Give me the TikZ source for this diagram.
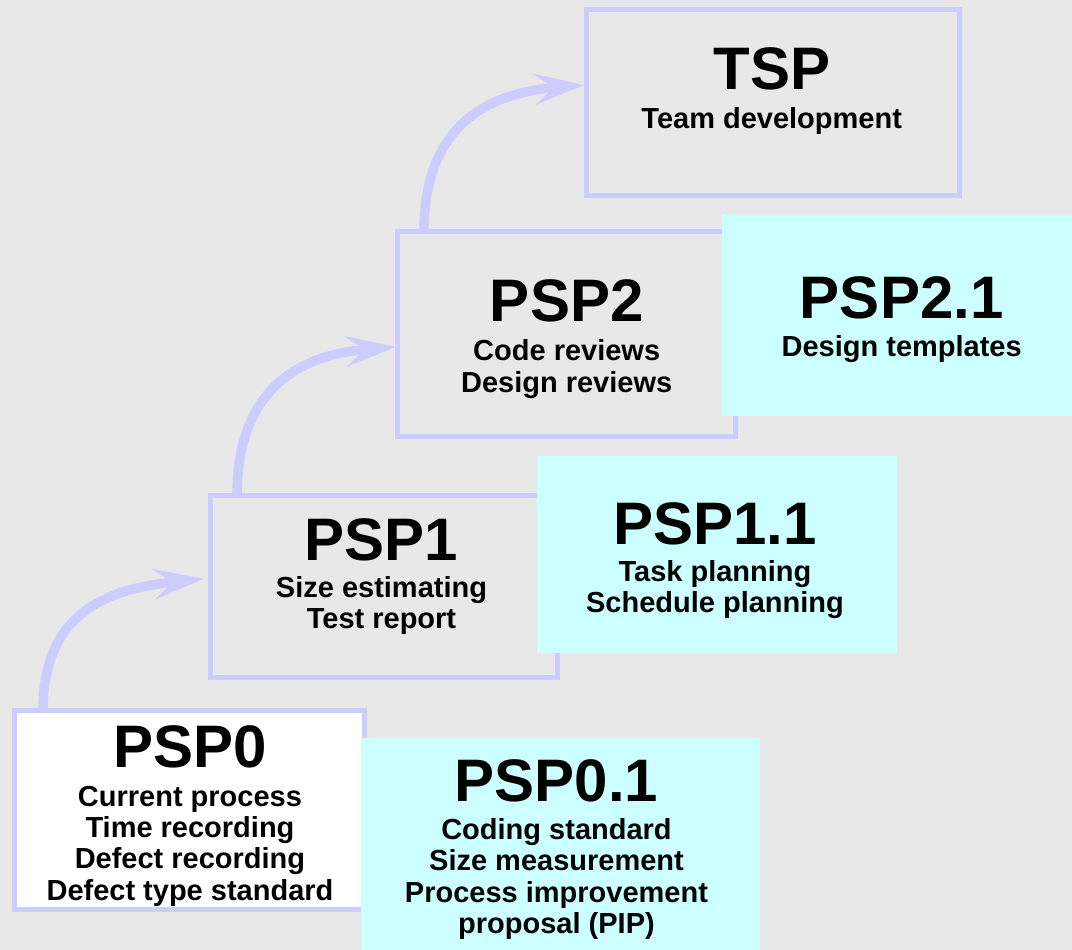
\documentclass[tikz,border=0pt]{standalone}
\usepackage{fontspec}
\setmainfont{Liberation Sans}
\usetikzlibrary{arrows.meta}
\definecolor{bgc}{HTML}{E8E8E8}
\definecolor{lav}{HTML}{CCCCFF}
\definecolor{aqua}{HTML}{CCFFFF}
\begin{document}
\begin{tikzpicture}[x=1pt,y=1pt,
  stage/.style={draw=lav, line width=5pt, fill=bgc, inner sep=0pt, outer sep=0pt},
  extra/.style={fill=aqua, inner sep=0pt, outer sep=0pt},
  head/.style={font=\fontsize{60}{70}\selectfont\bfseries, inner sep=0pt, anchor=base},
  % multi-line lists are placed by the baseline of their last line
  items/.style={font=\fontsize{29}{31.3}\selectfont\bfseries, align=center, inner sep=0pt, anchor=base},
  flow/.style={draw=lav, line width=9.5pt,
    -{Stealth[length=50pt,width=31pt,inset=20pt,line width=0.01pt]}}]

% page background
\fill[bgc] (0,0) rectangle (1072,-950);
\useasboundingbox (0,0) rectangle (1072,-950);

% main process levels
\node[stage, fill=white, minimum width=350pt, minimum height=199pt] (psp0) at (189.5,-810) {};
\node[stage, minimum width=347pt, minimum height=182pt] (psp1) at (384,-586.5) {};
\node[stage, minimum width=338pt, minimum height=205pt] (psp2) at (566.5,-334) {};
\node[stage, minimum width=373pt, minimum height=186pt] (tsp) at (773,-102.5) {};

% progression arrows
\draw[flow] ([xshift=28.5pt]psp0.north west) to[out=90,in=186,looseness=1.2] ([xshift=-7.5pt,yshift=7.5pt]psp1.west);
\draw[flow] ([xshift=26.5pt]psp1.north west) to[out=90,in=185,looseness=1.2] ([xshift=-2.5pt,yshift=-13pt]psp2.west);
\draw[flow] ([xshift=26.5pt]psp2.north west) to[out=90,in=185,looseness=1.2] ([xshift=-2.5pt,yshift=17.5pt]tsp.west);

% intermediate levels
\node[extra, minimum width=399pt, minimum height=214pt] (psp01) at (560.5,-845) {};
\node[extra, minimum width=360pt, minimum height=197pt] (psp11) at (717,-554.5) {};
\node[extra, minimum width=350pt, minimum height=202pt] (psp21) at (897,-315) {};

% labels
\node[head] (psp0-t) at (190,-767) {PSP0};
\node[items] (psp0-i) at (190,-900) {Current process\\Time recording\\Defect recording\\Defect type standard};

\node[head] (psp01-t) at (556.5,-801.7) {PSP0.1};
\node[items] (psp01-i) at (556.5,-933.3) {Coding standard\\Size measurement\\Process improvement\\proposal (PIP)};

\node[head] (psp1-t) at (381.5,-560) {PSP1};
\node[items] (psp1-i) at (381.5,-628.3) {Size estimating\\Test report};

\node[head] (psp11-t) at (715,-544) {PSP1.1};
\node[items] (psp11-i) at (715,-612.7) {Task planning\\Schedule planning};

\node[head] (psp2-t) at (566.7,-321.7) {PSP2};
\node[items] (psp2-i) at (566.7,-392) {Code reviews\\Design reviews};

\node[head] (psp21-t) at (901.7,-318) {PSP2.1};
\node[items] (psp21-i) at (901.7,-356.7) {Design templates};

\node[head] (tsp-t) at (771.7,-90) {TSP};
\node[items] (tsp-i) at (771.7,-128.3) {Team development};
\end{tikzpicture}
\end{document}
